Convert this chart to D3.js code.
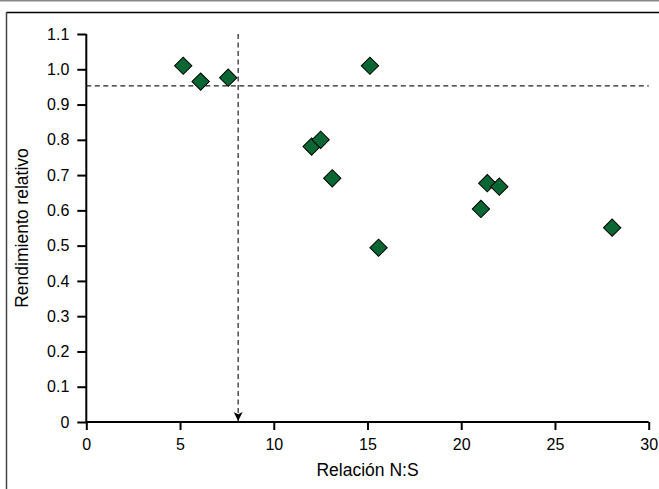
<!DOCTYPE html>
<html>
<head>
<meta charset="utf-8">
<script src="https://cdn.jsdelivr.net/npm/d3@7"></script>
<style>
  html, body { margin: 0; padding: 0; background: #fff; }
  svg { display: block; }
  text { font-family: "Liberation Sans", Arial, sans-serif; fill: #000; }
</style>
</head>
<body>
<svg id="chart" width="659" height="489"></svg>
<script>
// ---- data ----
const relacionNS = [5.17, 6.10, 7.57, 15.13, 12.02, 12.50, 13.12, 15.59, 21.39, 22.03, 21.05, 28.05];
const rendimiento = [1.010, 0.965, 0.976, 1.010, 0.781, 0.800, 0.691, 0.494, 0.677, 0.667, 0.604, 0.551];
const xTicks = [0, 5, 10, 15, 20, 25, 30];
const xTickLabels = ["0", "5", "10", "15", "20", "25", "30"];
const yTicks = [0, 0.1, 0.2, 0.3, 0.4, 0.5, 0.6, 0.7, 0.8, 0.9, 1.0, 1.1];
const yTickLabels = ["0", "0.1", "0.2", "0.3", "0.4", "0.5", "0.6", "0.7", "0.8", "0.9", "1.0", "1.1"];
const thresholdY = [0.953];
const thresholdX = [8.1];
const xTitle = "Relación N:S";
const yTitle = "Rendimiento relativo";

// ---- layout ----
const svg = d3.select("#chart");
const plot = { left: 86.3, right: 648.7, top: 34, bottom: 422 };

const x = d3.scaleLinear().domain([0, 30]).range([plot.left, plot.right]);
const y = d3.scaleLinear().domain([0, 1.1]).range([plot.bottom, plot.top]);

// frame
svg.append("rect").attr("x", 0).attr("y", 0).attr("width", 659).attr("height", 1.5).attr("fill", "#888");
svg.append("line").attr("x1", 6.5).attr("x2", 659).attr("y1", 12.5).attr("y2", 12.5)
  .attr("stroke", "#000").attr("stroke-width", 1.5);
svg.append("line").attr("x1", 6.5).attr("x2", 6.5).attr("y1", 12).attr("y2", 489)
  .attr("stroke", "#444").attr("stroke-width", 1.5);

// arrow marker
const defs = svg.append("defs");
defs.append("marker").attr("id", "arrow").attr("viewBox", "0 0 10 10")
  .attr("refX", 10).attr("refY", 5).attr("markerWidth", 10).attr("markerHeight", 9)
  .attr("markerUnits", "userSpaceOnUse").attr("orient", "auto")
  .append("path").attr("d", "M0,0 L10,5 L0,10 L2.5,5 Z").attr("fill", "#000");

// dashed reference lines
svg.selectAll(".hline").data(thresholdY).join("line")
  .attr("x1", plot.left).attr("x2", plot.right)
  .attr("y1", d => y(d)).attr("y2", d => y(d))
  .attr("stroke", "#222").attr("stroke-width", 1.2).attr("stroke-dasharray", "5,3.5");

svg.selectAll(".vline").data(thresholdX).join("line")
  .attr("x1", d => x(d)).attr("x2", d => x(d))
  .attr("y1", y(1.1)).attr("y2", y(0) - 1)
  .attr("stroke", "#222").attr("stroke-width", 1.2).attr("stroke-dasharray", "5,3.5")
  .attr("marker-end", "url(#arrow)");

// axes
const xAxis = d3.axisBottom(x).tickValues(xTicks)
  .tickFormat((d, i) => xTickLabels[i]).tickSize(8).tickPadding(9);
const yAxis = d3.axisLeft(y).tickValues(yTicks)
  .tickFormat((d, i) => yTickLabels[i]).tickSize(9).tickPadding(8);

const gx = svg.append("g").attr("transform", `translate(0,${plot.bottom})`).call(xAxis);
const gy = svg.append("g").attr("transform", `translate(${plot.left},0)`).call(yAxis);
[gx, gy].forEach(g => {
  g.select(".domain").attr("stroke", "#000").attr("stroke-width", 2);
  g.selectAll(".tick line").attr("stroke", "#000").attr("stroke-width", 2);
  g.selectAll(".tick text").attr("font-size", 16).attr("fill", "#000")
    .attr("font-family", "Liberation Sans, Arial, sans-serif");
});
gx.select(".domain").attr("d", `M${plot.left},0H${plot.right}`);
gy.select(".domain").attr("d", `M0,${plot.bottom}V${plot.top}`);

// points (diamonds)
const diamond = d3.symbol().type(d3.symbolSquare).size(150);
svg.selectAll(".pt").data(relacionNS.map((v, i) => [v, rendimiento[i]])).join("path")
  .attr("d", diamond)
  .attr("transform", d => `translate(${x(d[0])},${y(d[1])}) rotate(45)`)
  .attr("fill", "#0a6632").attr("stroke", "#000").attr("stroke-width", 1);

// titles
svg.append("text").attr("x", (plot.left + plot.right) / 2).attr("y", 476)
  .attr("text-anchor", "middle").attr("font-size", 17.5).text(xTitle);
svg.append("text")
  .attr("transform", `translate(28,${(plot.top + plot.bottom) / 2}) rotate(-90)`)
  .attr("text-anchor", "middle").attr("font-size", 17.5).text(yTitle);
</script>
</body>
</html>
